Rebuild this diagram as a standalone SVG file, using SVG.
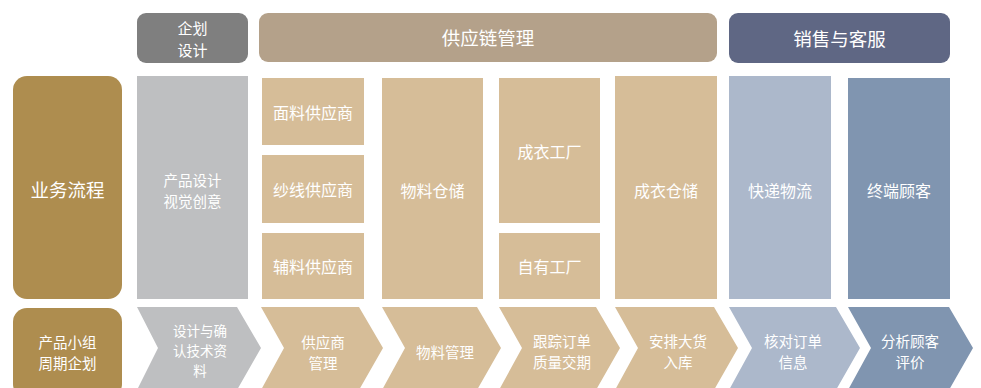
<svg xmlns="http://www.w3.org/2000/svg" width="981" height="388" viewBox="0 0 981 388">
<style>
text{font-family:"Noto Sans CJK SC","Noto Sans",sans-serif;fill:#ffffff;text-anchor:middle;dominant-baseline:central}
.h{font-size:18.5px}
.h2{font-size:15px}
.m{font-size:16px}
.m2{font-size:14.5px}
.b{font-size:14.5px}
.b3{font-size:13.5px}
.gold{fill:#AE8D4F}
.hgray{fill:#7F7F7F}
.hbeige{fill:#B4A18A}
.hblue{fill:#5F6784}
.gray{fill:#BEBFC1}
.beige{fill:#D6BD98}
.lblue{fill:#ACB8CB}
.sblue{fill:#8095B0}
</style>
<rect width="981" height="388" fill="#ffffff"/>
<g id="hdr-plan"><rect class="hgray" x="137" y="13" width="111" height="50" rx="9"/><text class="h2" x="192.5" y="27">企划</text><text class="h2" x="192.5" y="49">设计</text></g>
<g id="hdr-supply"><rect class="hbeige" x="259" y="13" width="458" height="49" rx="9"/><text class="h" x="488" y="37">供应链管理</text></g>
<g id="hdr-sales"><rect class="hblue" x="729" y="13" width="221" height="50" rx="9"/><text class="h" x="839.5" y="38">销售与客服</text></g>

<g id="row-flow"><rect class="gold" x="13" y="76" width="109" height="223" rx="14"/><text class="h" x="67.5" y="189">业务流程</text></g>
<g id="design"><rect class="gray" x="137" y="76" width="111" height="223"/><text class="m2" x="192.5" y="179">产品设计</text><text class="m2" x="192.5" y="200">视觉创意</text></g>
<g id="fabric"><rect class="beige" x="262" y="78" width="102" height="67"/><text class="m" x="313" y="112">面料供应商</text></g>
<g id="yarn"><rect class="beige" x="262" y="155" width="102" height="68"/><text class="m" x="313" y="189">纱线供应商</text></g>
<g id="accessory"><rect class="beige" x="262" y="233" width="102" height="66"/><text class="m" x="313" y="266">辅料供应商</text></g>
<g id="material-store"><rect class="beige" x="382" y="78" width="101" height="221"/><text class="m" x="432.5" y="190">物料仓储</text></g>
<g id="garment-factory"><rect class="beige" x="499" y="78" width="101" height="145"/><text class="m" x="549.5" y="151">成衣工厂</text></g>
<g id="own-factory"><rect class="beige" x="499" y="233" width="101" height="66"/><text class="m" x="549.5" y="266">自有工厂</text></g>
<g id="garment-store"><rect class="beige" x="615" y="76" width="102" height="223"/><text class="m" x="666" y="190">成衣仓储</text></g>
<g id="express"><rect class="lblue" x="729" y="76" width="102" height="223"/><text class="m" x="780" y="190">快递物流</text></g>
<g id="customer"><rect class="sblue" x="848" y="78" width="102" height="221"/><text class="m" x="899" y="190">终端顾客</text></g>

<g id="row-plan"><rect class="gold" x="13" y="308" width="109" height="90" rx="14"/><text class="b" x="67.5" y="341">产品小组</text><text class="b" x="67.5" y="362">周期企划</text></g>
<g id="step-design"><polygon class="gray" points="137,307 237,307 261,348 237,390 137,390 158,348"/><text class="b3" x="200" y="330">设计与确</text><text class="b3" x="200" y="350">认技术资</text><text class="b3" x="200" y="370">料</text></g>
<g id="step-supplier"><polygon class="beige" points="261,307 359,307 383,348 359,390 261,390 284,348"/><text class="b" x="323" y="341">供应商</text><text class="b" x="323" y="362">管理</text></g>
<g id="step-material"><polygon class="beige" points="382,307 477,307 501,348 477,390 382,390 405,348"/><text class="b" x="445" y="351">物料管理</text></g>
<g id="step-track"><polygon class="beige" points="499,307 596,307 620,348 596,390 499,390 522,348"/><text class="b" x="562" y="340">跟踪订单</text><text class="b" x="562" y="361">质量交期</text></g>
<g id="step-stock"><polygon class="beige" points="615,307 714,307 738,348 714,390 615,390 638,348"/><text class="b" x="678" y="340">安排大货</text><text class="b" x="678" y="361">入库</text></g>
<g id="step-check"><polygon class="lblue" points="729,307 836,307 860,348 836,390 729,390 752,348"/><text class="b" x="793" y="340">核对订单</text><text class="b" x="793" y="361">信息</text></g>
<g id="step-review"><polygon class="sblue" points="848,307 949,307 973,348 949,390 848,390 871,348"/><text class="b" x="910" y="340">分析顾客</text><text class="b" x="910" y="361">评价</text></g>
</svg>
